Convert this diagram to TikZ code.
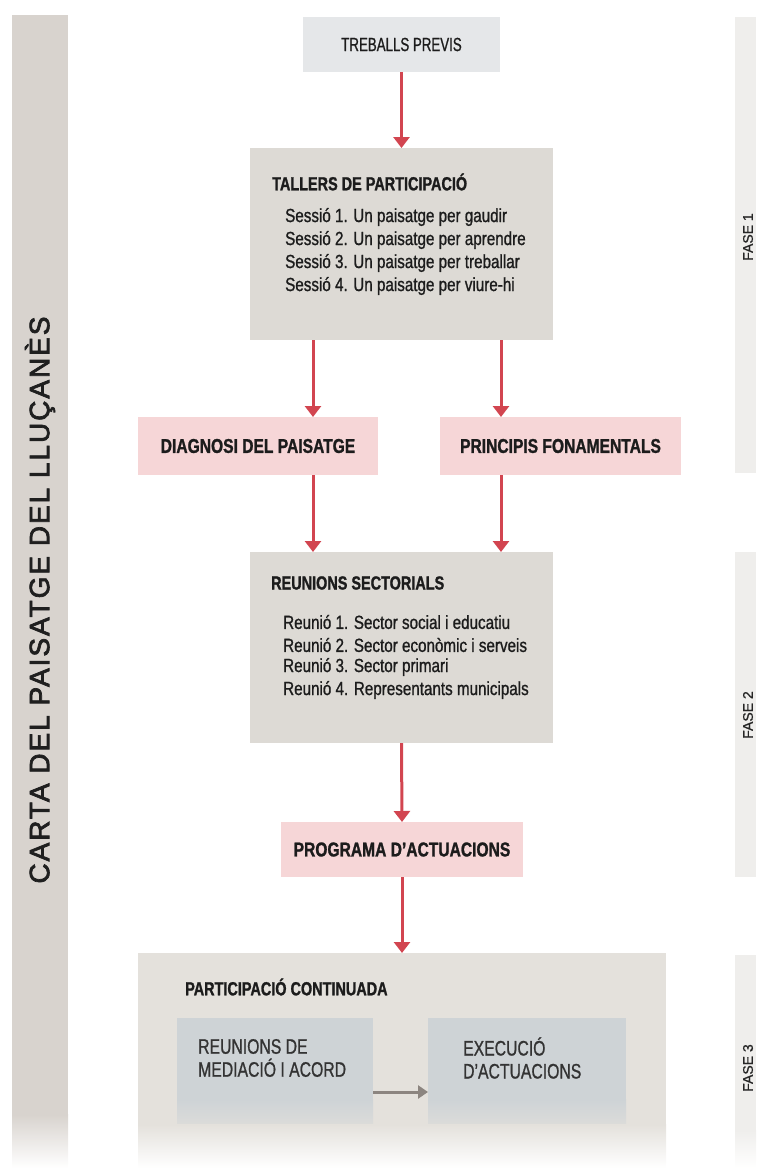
\documentclass[tikz,border=0pt]{standalone}
\usepackage{fontspec}
\setmainfont{Liberation Sans}
\newfontfamily\condr[FakeStretch=0.8,FakeBold=1]{Liberation Sans}
\newfontfamily\condc[FakeStretch=0.7,FakeBold=0.8]{Liberation Sans}
\newfontfamily\condi[FakeStretch=0.75,FakeBold=0.9]{Liberation Sans}
\newfontfamily\condb[FakeStretch=0.76,FakeBold=1.2]{Liberation Sans}
\newfontfamily\condp[FakeStretch=0.78,FakeBold=1.2]{Liberation Sans}
\newfontfamily\titlefont[LetterSpace=7,FakeBold=2.5]{Liberation Sans}
\newfontfamily\fasefont[FakeBold=0.8]{Liberation Sans}
\usetikzlibrary{arrows.meta}
\definecolor{arrred}{HTML}{D24550}
\definecolor{pinkfill}{HTML}{F6D6D7}
\definecolor{graybox}{HTML}{DDDAD5}
\definecolor{trebfill}{HTML}{E5E7E9}
\definecolor{leftbar}{HTML}{D8D3CE}
\definecolor{fasebar}{HTML}{EFEEEC}
\definecolor{partfill}{HTML}{E4E1DC}
\definecolor{innerfill}{HTML}{CED3D6}
\definecolor{arrgray}{HTML}{8C8580}
\definecolor{txt}{HTML}{1C1C1C}
\tikzset{
  box/.style={anchor=north west, inner sep=0pt, outer sep=0pt, draw=none},
  redarr/.style={draw=arrred, line width=3pt, -{Triangle[width=16pt,length=11pt,fill=arrred]}},
  grayarr/.style={draw=arrgray, line width=3pt, -{Triangle[width=13pt,length=10pt,fill=arrgray]}},
  lbl/.style={inner sep=0pt, text=txt},
  item/.style={lbl, anchor=west, font=\condr\fontsize{19}{22}\selectfont},
  ttl/.style={lbl, anchor=west, font=\condb\bfseries\fontsize{19}{22}\selectfont},
  pinklbl/.style={lbl, font=\condp\bfseries\fontsize{20}{23}\selectfont},
  innerlbl/.style={lbl, anchor=west, align=left, text=black!80, font=\condi\fontsize{21}{23}\selectfont},
  faselbl/.style={lbl, rotate=90, text=black!85, font=\fasefont\fontsize{14}{16}\selectfont},
}
\begin{document}
\begin{tikzpicture}[x=1pt,y=-1pt]
\useasboundingbox (0,0) rectangle (756,1171);
% side bars
\node[box, fill=leftbar, minimum width=56pt, minimum height=1100pt] (lbar) at (12,15) {};
\shade[top color=leftbar, bottom color=white] (12,1114.5) rectangle (68,1168);
\node[lbl, rotate=90, text=black!88, font=\titlefont\fontsize{28}{30}\selectfont] (ltitle) at (40,600) {CARTA DEL PAISATGE DEL LLUÇANÈS};

\node[box, fill=fasebar, minimum width=21pt, minimum height=456pt] (f1) at (735,17) {};
\node[box, fill=fasebar, minimum width=21pt, minimum height=325pt] (f2) at (735,552) {};
\node[box, fill=fasebar, minimum width=21pt, minimum height=176pt] (f3) at (735,955) {};
\shade[top color=fasebar, bottom color=white] (735,1130.5) rectangle (756,1168);
\node[faselbl] (f1t) at (748,237) {FASE 1};
\node[faselbl] (f2t) at (748,715) {FASE 2};
\node[faselbl] (f3t) at (748,1068) {FASE 3};

% boxes
\node[box, fill=trebfill, minimum width=197pt, minimum height=55pt] (treb) at (303,17) {};
\node[lbl, font=\condc\fontsize{19}{22}\selectfont] (trebt) at (treb.center) {TREBALLS PREVIS};

\node[box, fill=graybox, minimum width=303pt, minimum height=192pt] (tall) at (250,148) {};
\node[ttl] (tallt) at (272,182) {TALLERS DE PARTICIPACIÓ};
\node[item] (s1) at (285,217) {Sessió 1. Un paisatge per gaudir};
\node[item] (s2) at (285,240) {Sessió 2. Un paisatge per aprendre};
\node[item] (s3) at (285,263) {Sessió 3. Un paisatge per treballar};
\node[item] (s4) at (285,286) {Sessió 4. Un paisatge per viure-hi};

\node[box, fill=pinkfill, minimum width=240pt, minimum height=58pt] (diag) at (138,417) {};
\node[pinklbl] (diagt) at (diag.center) {DIAGNOSI DEL PAISATGE};
\node[box, fill=pinkfill, minimum width=241pt, minimum height=58pt] (princ) at (440,417) {};
\node[pinklbl] (princt) at (princ.center) {PRINCIPIS FONAMENTALS};

\node[box, fill=graybox, minimum width=303pt, minimum height=191pt] (reun) at (250,552) {};
\node[ttl] (reunt) at (271,583) {REUNIONS SECTORIALS};
\node[item] (r1) at (283,622) {Reunió 1. Sector social i educatiu};
\node[item] (r2) at (283,645) {Reunió 2. Sector econòmic i serveis};
\node[item] (r3) at (283,667) {Reunió 3. Sector primari};
\node[item] (r4) at (283,690) {Reunió 4. Representants municipals};

\node[box, fill=pinkfill, minimum width=242pt, minimum height=55pt] (prog) at (281,822) {};
\node[pinklbl] (progt) at (prog.center) {PROGRAMA D’ACTUACIONS};

\node[box, fill=partfill, minimum width=528pt, minimum height=215pt] (part) at (138,953) {};
\node[ttl] (partt) at (185,987) {PARTICIPACIÓ CONTINUADA};
\node[box, fill=innerfill, minimum width=196pt, minimum height=82pt] (med) at (177,1018) {};
\node[box, fill=innerfill, minimum width=198pt, minimum height=82pt] (exec) at (428,1018) {};
\shade[top color=innerfill, bottom color=partfill] (177,1099.5) rectangle (373,1140);
\shade[top color=innerfill, bottom color=partfill] (428,1099.5) rectangle (626,1140);
\shade[top color=partfill, bottom color=white] (138,1124.5) rectangle (666,1168);
\node[innerlbl] (medt) at (198,1058) {REUNIONS DE\\MEDIACIÓ I ACORD};
\node[innerlbl] (exect) at (463,1058) {EXECUCIÓ\\D’ACTUACIONS};

% connectors
\coordinate (cL) at (313,0);
\coordinate (cR) at (501,0);
\coordinate (cG) at (0,1092);
\draw[redarr] (treb.south) -- (tall.north -| treb.south);
\draw[redarr] (cL |- tall.south) -- (cL |- diag.north);
\draw[redarr] (cR |- tall.south) -- (cR |- princ.north);
\draw[redarr] (cL |- diag.south) -- (cL |- reun.north);
\draw[redarr] (cR |- princ.south) -- (cR |- reun.north);
\draw[redarr] (reun.south) -- (prog.north);
\draw[redarr] (prog.south) -- (prog.south |- part.north);
\draw[grayarr] (med.east |- cG) -- (exec.west |- cG);
\end{tikzpicture}
\end{document}
